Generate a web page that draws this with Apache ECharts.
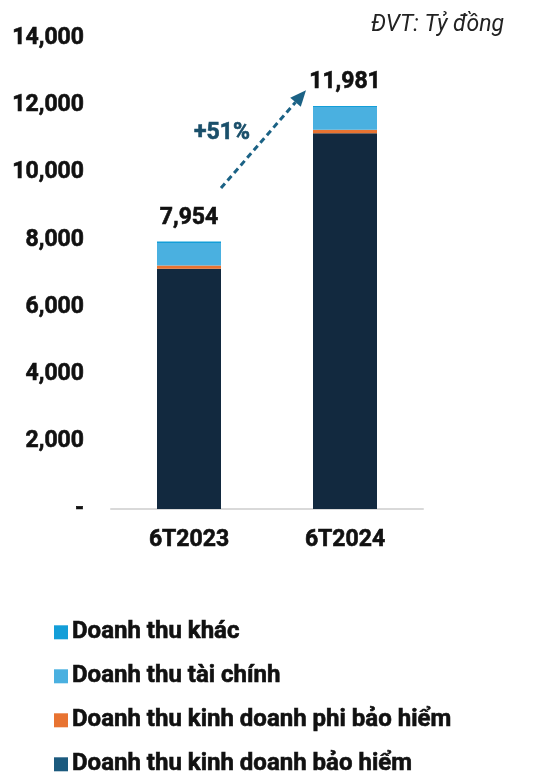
<!DOCTYPE html>
<html>
<head>
<meta charset="utf-8">
<script src="https://cdn.jsdelivr.net/npm/echarts@6/dist/echarts.min.js"></script>
<style>
  html, body { margin: 0; padding: 0; background: #fff; }
  #chart { width: 533px; height: 777px; }
</style>
</head>
<body>
<div id="chart"></div>
<script>
// du lieu
const categories = ['6T2023', '6T2024']
const baoHiem = [7140, 11170]
const phiBaoHiem = [100, 100]
const taiChinh = [664, 680]
const khac = [50, 31]
const totals = [7954, 11981]
const yTicks = [0, 2000, 4000, 6000, 8000, 10000, 12000, 14000]
const growth = '+51%'
const legendNames = ['Doanh thu khác', 'Doanh thu tài chính', 'Doanh thu kinh doanh phi bảo hiểm', 'Doanh thu kinh doanh bảo hiểm']

const FONT = 'Roboto'
const W = 'bold'
// net chu dam hon mot chut
const heavy = { textBorderColor: '#111', textBorderWidth: 0.6 }
const chart = echarts.init(document.getElementById('chart'))

const fmt = v => v === 0 ? '-' : v.toLocaleString('en-US')

// moi dong chu thich la mot legend rieng de khong bi xuong cot
const legends = legendNames.map((name, i) => ({
  orient: 'vertical',
  left: 54,
  top: 620 + i * 44,
  padding: 0,
  itemWidth: 14,
  itemHeight: 14,
  icon: 'rect',
  textStyle: { fontSize: 24, fontWeight: W, color: '#111', padding: [0, 0, 0, -1], ...heavy },
  data: [i === 3 ? { name, itemStyle: { color: '#1B5A7E' } } : { name }]
}))

const option = {
  animation: false,
  textStyle: { fontFamily: FONT },
  title: {
    text: 'ĐVT: Tỷ đồng',
    right: 24,
    top: 9,
    textStyle: { fontFamily: FONT, fontStyle: 'italic', fontWeight: 'normal', fontSize: 23, color: '#222' }
  },
  grid: { left: 111, right: 110, top: 38, bottom: 268 },
  xAxis: {
    type: 'category',
    data: categories,
    axisTick: { show: false },
    axisLine: { lineStyle: { color: '#D9D9D9', width: 2 } },
    axisLabel: { fontSize: 23, fontWeight: W, color: '#111', margin: 20, ...heavy }
  },
  yAxis: {
    type: 'value',
    min: yTicks[0],
    max: yTicks[yTicks.length - 1],
    interval: 2000,
    splitLine: { show: false },
    axisLabel: { fontSize: 23, fontWeight: W, color: '#111', margin: 27, formatter: fmt, ...heavy }
  },
  legend: legends,
  series: [
    { name: legendNames[3], type: 'bar', stack: 't', barWidth: 64, data: baoHiem, itemStyle: { color: '#12293F' } },
    { name: legendNames[2], type: 'bar', stack: 't', data: phiBaoHiem, itemStyle: { color: '#E87331' } },
    { name: legendNames[1], type: 'bar', stack: 't', data: taiChinh, itemStyle: { color: '#4AB0E0' } },
    {
      name: legendNames[0], type: 'bar', stack: 't', data: khac, itemStyle: { color: '#139ED8' },
      label: {
        show: true, position: 'top', distance: 12,
        fontSize: 23, fontWeight: W, color: '#111', ...heavy,
        formatter: p => totals[p.dataIndex].toLocaleString('en-US')
      }
    }
  ]
}
chart.setOption(option)

// mui ten tang truong
const p0 = chart.convertToPixel({ xAxisIndex: 0, yAxisIndex: 0 }, [0, 9540])
const p1 = chart.convertToPixel({ xAxisIndex: 0, yAxisIndex: 0 }, [1, 12450])
const x0 = p0[0] + 32, y0 = p0[1]
const x1 = p1[0] - 39, y1 = p1[1]
const ang = Math.atan2(y1 - y0, x1 - x0)
const head = 16
const bx = x1 - head * Math.cos(ang), by = y1 - head * Math.sin(ang)
const nx = -Math.sin(ang) * 7, ny = Math.cos(ang) * 7
chart.setOption({
  graphic: [
    {
      type: 'line',
      shape: { x1: x0, y1: y0, x2: bx, y2: by },
      style: { stroke: '#1B6285', lineWidth: 3, lineDash: [6, 4] }
    },
    {
      type: 'polygon',
      shape: { points: [[x1, y1], [bx + nx, by + ny], [bx - nx, by - ny]] },
      style: { fill: '#1B6285' }
    },
    {
      type: 'text',
      x: x0 + 1, y: y0 - 55,
      style: {
        text: growth, font: 'bold 23px Roboto', fill: '#1A4F6A',
        stroke: '#1A4F6A', lineWidth: 0.6, align: 'center', verticalAlign: 'middle'
      }
    }
  ]
})
</script>
</body>
</html>
